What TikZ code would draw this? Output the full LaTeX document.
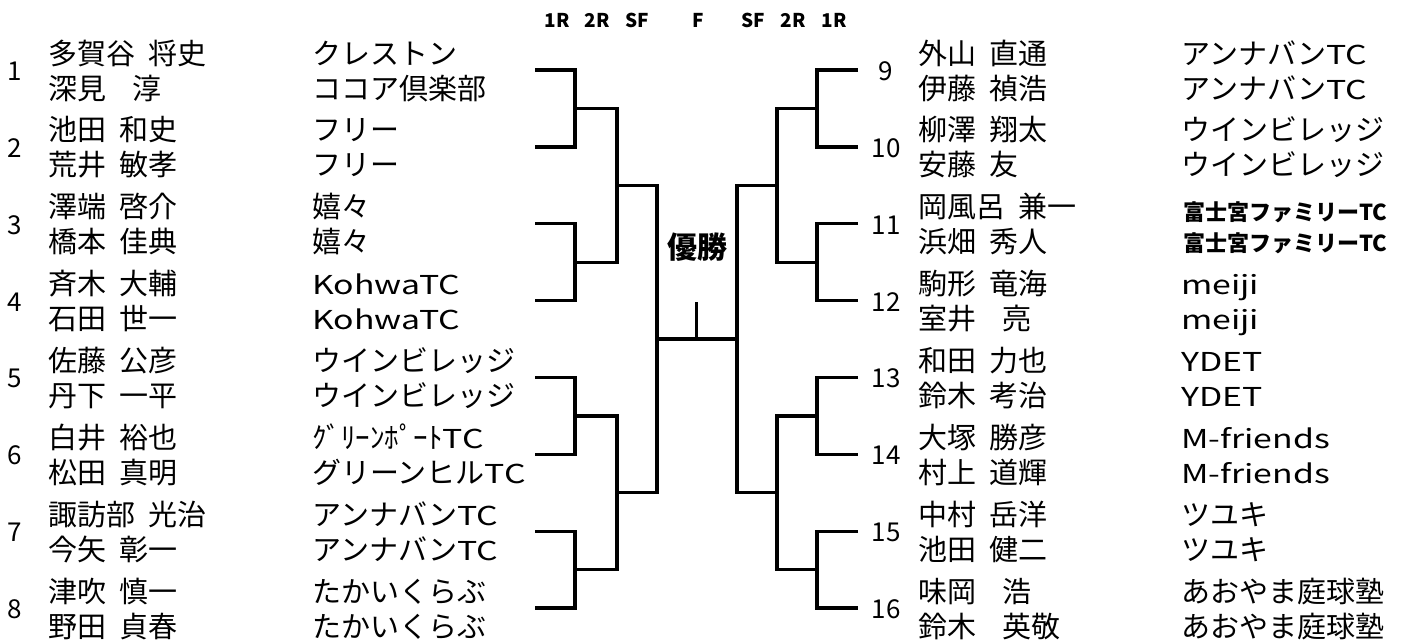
\documentclass[tikz,border=0pt]{standalone}
\usepackage{fontspec}
\setmainfont{Noto Sans CJK JP}
\newfontfamily\latf{Noto Sans CJK JP}[FakeStretch=1.3]
\newcommand\hs{\hspace{0.45em}}
\newcommand\hw{\hspace{0.9em}}
\newcommand\Lx[1]{{\latf\fontsize{26}{26}\selectfont #1}}
\tikzset{
  br/.style={line width=3.2pt, line join=miter},
  nm/.style={anchor=base west, inner sep=0pt, font=\fontsize{29}{29}\selectfont},
  clb/.style={anchor=base west, inner sep=0pt, font=\fontsize{29}{29}\selectfont},
  clbold/.style={anchor=base west, inner sep=0pt, font=\bfseries\fontsize{22}{22}\selectfont},
  num/.style={anchor=base, inner sep=0pt, font=\fontsize{26}{26}\selectfont},
  hd/.style={anchor=base, inner sep=0pt, font=\bfseries\fontsize{19}{19}\selectfont},
  win/.style={anchor=base, inner sep=0pt, font=\bfseries\fontsize{30}{30}\selectfont},
}
\begin{document}
\begin{tikzpicture}[x=1pt,y=-1pt]
\useasboundingbox (0,0) rectangle (1413,640);
% header
\node[hd] (h1) at (557,27) {1R};
\node[hd] (h2) at (597,27) {2R};
\node[hd] (h3) at (637,27) {SF};
\node[hd] (h4) at (698,27) {F};
\node[hd] (h5) at (753,27) {SF};
\node[hd] (h6) at (793,27) {2R};
\node[hd] (h7) at (834,27) {1R};
% entry coordinates
\coordinate (Le1) at (535,70);    \coordinate (Re1) at (858,70);
\coordinate (Le2) at (535,146.9); \coordinate (Re2) at (858,146.9);
\coordinate (Le3) at (535,223.7); \coordinate (Re3) at (858,223.7);
\coordinate (Le4) at (535,300.6); \coordinate (Re4) at (858,300.6);
\coordinate (Le5) at (535,377.4); \coordinate (Re5) at (858,377.4);
\coordinate (Le6) at (535,454.3); \coordinate (Re6) at (858,454.3);
\coordinate (Le7) at (535,531.1); \coordinate (Re7) at (858,531.1);
\coordinate (Le8) at (535,608);   \coordinate (Re8) at (858,608);
% joints
\coordinate (La1) at (575,108.4); \coordinate (Ra1) at (817,108.4);
\coordinate (La2) at (575,262.1); \coordinate (Ra2) at (817,262.1);
\coordinate (La3) at (575,415.9); \coordinate (Ra3) at (817,415.9);
\coordinate (La4) at (575,569.5); \coordinate (Ra4) at (817,569.5);
\coordinate (Lb1) at (617,185.3); \coordinate (Rb1) at (777,185.3);
\coordinate (Lb2) at (617,492.7); \coordinate (Rb2) at (777,492.7);
\coordinate (Lc) at (657,339);    \coordinate (Rc) at (737,339);
\coordinate (W) at (696.5,339);   \coordinate (Wt) at (696.5,302);
% left bracket
\draw[br] (Le1) -| (La1) |- (Le2);
\draw[br] (Le3) -| (La2) |- (Le4);
\draw[br] (Le5) -| (La3) |- (Le6);
\draw[br] (Le7) -| (La4) |- (Le8);
\draw[br] (La1) -| (Lb1) |- (La2);
\draw[br] (La3) -| (Lb2) |- (La4);
\draw[br] (Lb1) -| (Lc) |- (Lb2);
% right bracket
\draw[br] (Re1) -| (Ra1) |- (Re2);
\draw[br] (Re3) -| (Ra2) |- (Re4);
\draw[br] (Re5) -| (Ra3) |- (Re6);
\draw[br] (Re7) -| (Ra4) |- (Re8);
\draw[br] (Ra1) -| (Rb1) |- (Ra2);
\draw[br] (Ra3) -| (Rb2) |- (Ra4);
\draw[br] (Rb1) -| (Rc) |- (Rb2);
% final
\draw[br] (Lc) -- (Rc);
\draw[br] (W) -- (Wt);
\node[win] (champ) at (697,258) {優勝};
% left numbers
\node[num] (k1) at (15,80) {1};
\node[num] (k2) at (15,157) {2};
\node[num] (k3) at (15,234) {3};
\node[num] (k4) at (15,311) {4};
\node[num] (k5) at (15,387) {5};
\node[num] (k6) at (15,464) {6};
\node[num] (k7) at (15,541) {7};
\node[num] (k8) at (15,618) {8};
% right numbers
\node[num] (k9) at (886,80) {9};
\node[num] (k10) at (886,157) {10};
\node[num] (k11) at (886,234) {11};
\node[num] (k12) at (886,311) {12};
\node[num] (k13) at (886,387) {13};
\node[num] (k14) at (886,464) {14};
\node[num] (k15) at (886,541) {15};
\node[num] (k16) at (886,618) {16};
% left names
\node[nm] (n1a) at (48,64) {多賀谷\hs 将史};
\node[nm] (n1b) at (48,99) {深見\hw 淳};
\node[nm] (n2a) at (48,140.9) {池田\hs 和史};
\node[nm] (n2b) at (48,175.9) {荒井\hs 敏孝};
\node[nm] (n3a) at (48,217.7) {澤端\hs 啓介};
\node[nm] (n3b) at (48,252.7) {橋本\hs 佳典};
\node[nm] (n4a) at (48,294.6) {斉木\hs 大輔};
\node[nm] (n4b) at (48,329.6) {石田\hs 世一};
\node[nm] (n5a) at (48,371.4) {佐藤\hs 公彦};
\node[nm] (n5b) at (48,406.4) {丹下\hs 一平};
\node[nm] (n6a) at (48,448.3) {白井\hs 裕也};
\node[nm] (n6b) at (48,483.3) {松田\hs 真明};
\node[nm] (n7a) at (48,525.1) {諏訪部\hs 光治};
\node[nm] (n7b) at (48,560.1) {今矢\hs 彰一};
\node[nm] (n8a) at (48,602) {津吹\hs 慎一};
\node[nm] (n8b) at (48,637) {野田\hs 貞春};
% left clubs
\node[clb] (c1a) at (312,64) {クレストン};
\node[clb] (c1b) at (312,99) {ココア倶楽部};
\node[clb] (c2a) at (312,140.9) {フリー};
\node[clb] (c2b) at (312,175.9) {フリー};
\node[clb] (c3a) at (312,217.7) {嬉々};
\node[clb] (c3b) at (312,252.7) {嬉々};
\node[clb] (c4a) at (312,294.6) {\Lx{KohwaTC}};
\node[clb] (c4b) at (312,329.6) {\Lx{KohwaTC}};
\node[clb] (c5a) at (312,371.4) {ウインビレッジ};
\node[clb] (c5b) at (312,406.4) {ウインビレッジ};
\node[clb] (c6a) at (312,448.3) {ｸﾞﾘｰﾝﾎﾟｰﾄ\Lx{TC}};
\node[clb] (c6b) at (312,483.3) {グリーンヒル\Lx{TC}};
\node[clb] (c7a) at (312,525.1) {アンナバン\Lx{TC}};
\node[clb] (c7b) at (312,560.1) {アンナバン\Lx{TC}};
\node[clb] (c8a) at (312,602) {たかいくらぶ};
\node[clb] (c8b) at (312,637) {たかいくらぶ};
% right names
\node[nm] (n9a) at (918,64) {外山\hs 直通};
\node[nm] (n9b) at (918,99) {伊藤\hs 禎浩};
\node[nm] (n10a) at (918,140.9) {柳澤\hs 翔太};
\node[nm] (n10b) at (918,175.9) {安藤\hs 友};
\node[nm] (n11a) at (918,217.7) {岡風呂\hs 兼一};
\node[nm] (n11b) at (918,252.7) {浜畑\hs 秀人};
\node[nm] (n12a) at (918,294.6) {駒形\hs 竜海};
\node[nm] (n12b) at (918,329.6) {室井\hw 亮};
\node[nm] (n13a) at (918,371.4) {和田\hs 力也};
\node[nm] (n13b) at (918,406.4) {鈴木\hs 考治};
\node[nm] (n14a) at (918,448.3) {大塚\hs 勝彦};
\node[nm] (n14b) at (918,483.3) {村上\hs 道輝};
\node[nm] (n15a) at (918,525.1) {中村\hs 岳洋};
\node[nm] (n15b) at (918,560.1) {池田\hs 健二};
\node[nm] (n16a) at (918,602) {味岡\hw 浩};
\node[nm] (n16b) at (918,637) {鈴木\hw 英敬};
% right clubs
\node[clb] (c9a) at (1181,64) {アンナバン\Lx{TC}};
\node[clb] (c9b) at (1181,99) {アンナバン\Lx{TC}};
\node[clb] (c10a) at (1181,140.9) {ウインビレッジ};
\node[clb] (c10b) at (1181,175.9) {ウインビレッジ};
\node[clbold] (c11a) at (1183,220.4) {富士宮ファミリーTC};
\node[clbold] (c11b) at (1183,251.4) {富士宮ファミリーTC};
\node[clb] (c12a) at (1181,294.6) {\Lx{meiji}};
\node[clb] (c12b) at (1181,329.6) {\Lx{meiji}};
\node[clb] (c13a) at (1181,371.4) {\Lx{YDET}};
\node[clb] (c13b) at (1181,406.4) {\Lx{YDET}};
\node[clb] (c14a) at (1181,448.3) {\Lx{M-friends}};
\node[clb] (c14b) at (1181,483.3) {\Lx{M-friends}};
\node[clb] (c15a) at (1181,525.1) {ツユキ};
\node[clb] (c15b) at (1181,560.1) {ツユキ};
\node[clb] (c16a) at (1181,602) {あおやま庭球塾};
\node[clb] (c16b) at (1181,637) {あおやま庭球塾};
\end{tikzpicture}
\end{document}
